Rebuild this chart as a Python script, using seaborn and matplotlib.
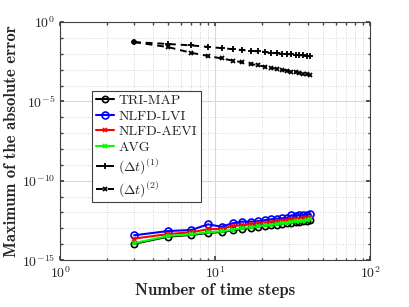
import matplotlib
matplotlib.use("Agg")
import matplotlib.pyplot as plt
import matplotlib.ticker as mticker
import numpy as np
import pandas as pd
import seaborn as sns

# ---- data ----
steps = [3, 5, 7, 9, 11, 13, 15, 17, 19, 21, 23, 25, 27, 29, 31, 33, 35, 37, 39, 41]
tri_map = [1.05e-14, 3.0e-14, 3.8e-14, 5.1e-14, 5.9e-14, 7.4e-14, 9.5e-14, 1.05e-13, 1.22e-13, 1.41e-13,
           1.55e-13, 1.70e-13, 1.90e-13, 2.08e-13, 2.28e-13, 2.50e-13, 2.62e-13, 2.75e-13, 2.88e-13, 3.38e-13]
nlfd_lvi = [3.63e-14, 6.76e-14, 7.76e-14, 1.78e-13, 1.26e-13, 2.09e-13, 2.63e-13, 2.63e-13, 2.88e-13, 3.31e-13,
            3.72e-13, 4.07e-13, 4.27e-13, 4.27e-13, 6.61e-13, 6.31e-13, 6.61e-13, 6.92e-13, 7.24e-13, 7.94e-13]
nlfd_aevi = [2.24e-14, 4.37e-14, 5.62e-14, 8.71e-14, 9.12e-14, 1.41e-13, 1.55e-13, 1.78e-13, 2.09e-13, 2.29e-13,
             2.51e-13, 2.75e-13, 3.02e-13, 3.16e-13, 3.72e-13, 3.89e-13, 4.07e-13, 4.27e-13, 4.47e-13, 4.90e-13]
avg = [1.17e-14, 3.31e-14, 4.17e-14, 5.62e-14, 6.46e-14, 8.13e-14, 1.05e-13, 1.15e-13, 1.35e-13, 1.55e-13,
       1.70e-13, 1.86e-13, 2.09e-13, 2.29e-13, 2.51e-13, 2.75e-13, 2.88e-13, 3.02e-13, 3.16e-13, 3.72e-13]
dt1 = [0.0550, 0.0417, 0.0339, 0.0275, 0.0229, 0.0195, 0.0174, 0.0156, 0.0141, 0.0130,
       0.0120, 0.0111, 0.0104, 0.00980, 0.00925, 0.00875, 0.00832, 0.00793, 0.00757, 0.00724]
dt2 = [0.0550, 0.0263, 0.01164, 0.00735, 0.00509, 0.00376, 0.00289, 0.00230, 0.00187, 0.00156,
       0.00132, 0.00113, 0.000986, 0.000865, 0.000766, 0.000681, 0.000612, 0.000553, 0.000502, 0.000458]
labels = ["TRI-MAP", "NLFD-LVI", "NLFD-AEVI", "AVG", r"$(\Delta t)^{(1)}$", r"$(\Delta t)^{(2)}$"]
x_label = "Number of time steps"
y_label = "Maximum of the absolute error"

sns.set_theme(style="ticks")
plt.rcParams["font.family"] = ["cmr10", "DejaVu Serif"]
plt.rcParams["mathtext.fontset"] = "cm"
plt.rcParams["axes.formatter.use_mathtext"] = True
plt.rcParams["axes.unicode_minus"] = False

fig = plt.figure(figsize=(4.09, 3.07), dpi=100)
ax = fig.add_axes([0.147, 0.153, 0.758, 0.775])

series = [
    (tri_map, labels[0], dict(color="black", marker="o", mfc="none", ms=4.5, mew=1.2, lw=1.5, ls="-")),
    (nlfd_lvi, labels[1], dict(color="blue", marker="o", mfc="none", ms=5, mew=1.2, lw=1.5, ls="-")),
    (nlfd_aevi, labels[2], dict(color="red", marker="x", ms=3.5, mew=1.2, lw=1.5, ls="-")),
    (avg, labels[3], dict(color="#00ff00", marker="x", ms=3.5, mew=1.2, lw=1.5, ls="-")),
    (dt1, labels[4], dict(color="black", marker="+", ms=5, mew=1.3, lw=1.4, ls=(0, (3.5, 2.5)))),
    (dt2, labels[5], dict(color="black", marker="x", ms=3.5, mew=1.3, lw=1.4, ls=(0, (3.5, 2.5)))),
]
handles = []
for vals, lab, kw in series:
    df = pd.DataFrame({"steps": steps, "err": vals})
    n_before = len(ax.lines)
    sns.lineplot(data=df, x="steps", y="err", ax=ax, legend=False)
    line = ax.lines[n_before]
    line.set_color(kw["color"])
    line.set_marker(kw["marker"])
    line.set_markersize(kw["ms"])
    line.set_markeredgewidth(kw["mew"])
    line.set_markeredgecolor(kw["color"])
    line.set_markerfacecolor(kw.get("mfc", kw["color"]))
    line.set_linewidth(kw["lw"])
    line.set_linestyle(kw["ls"])
    line.set_label(lab)
    handles.append(line)

ax.set_xscale("log")
ax.set_yscale("log")
ax.set_xlim(1, 100)
ax.set_ylim(1e-15, 1e0)
ax.yaxis.set_major_locator(mticker.FixedLocator([1e-15, 1e-10, 1e-5, 1e0]))
ax.yaxis.set_minor_locator(mticker.FixedLocator([10.0 ** k for k in range(-15, 1)]))
ax.yaxis.set_minor_formatter(mticker.NullFormatter())
ax.xaxis.set_major_locator(mticker.LogLocator(base=10, numticks=5))
ax.xaxis.set_minor_locator(mticker.LogLocator(base=10, subs=np.arange(2, 10), numticks=20))
ax.xaxis.set_minor_formatter(mticker.NullFormatter())

ax.grid(True, which="major", color="#d9d9d9", lw=0.8, ls="-")
ax.grid(True, which="minor", color="#c8c8c8", lw=0.6, ls=(0, (1, 2)))
ax.set_axisbelow(True)
ax.tick_params(which="both", direction="in", top=True, right=True, colors="#404040",
               labelcolor="#262626", labelsize=10)
ax.tick_params(which="major", length=3)
ax.tick_params(which="minor", length=1.8)
for s in ax.spines.values():
    s.set_color("#404040")
    s.set_linewidth(0.8)

ax.set_xlabel(x_label, family="cmb10", fontsize=12, color="#262626", labelpad=2)
ax.set_ylabel(y_label, family="cmb10", fontsize=12, color="#262626", labelpad=2)

leg = ax.legend(handles=handles, loc="upper left", bbox_to_anchor=(0.103, 0.71), fontsize=10,
                frameon=True, fancybox=False, edgecolor="#404040", framealpha=1, handlelength=1.3,
                handletextpad=0.35, borderpad=0.25, labelspacing=0.2, borderaxespad=0)
leg.get_frame().set_linewidth(0.8)

fig.savefig("out.png", dpi=100)
